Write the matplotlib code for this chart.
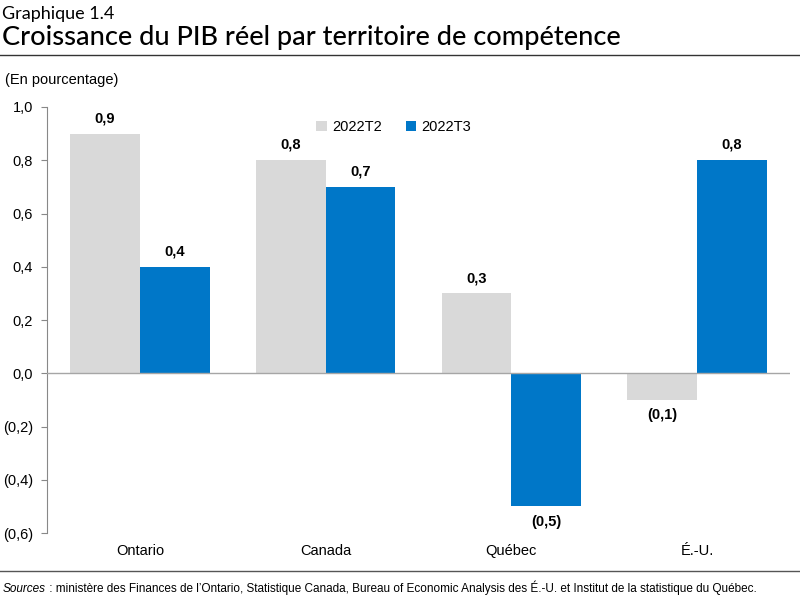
import matplotlib
matplotlib.use("Agg")
import matplotlib.pyplot as plt
import numpy as np
from matplotlib.lines import Line2D

categories = ["Ontario", "Canada", "Québec", "É.-U."]
s_t2 = [0.9, 0.8, 0.3, -0.1]
s_t3 = [0.4, 0.7, -0.5, 0.8]
series_names = ["2022T2", "2022T3"]
yticks = [1.0, 0.8, 0.6, 0.4, 0.2, 0.0, -0.2, -0.4, -0.6]

GREY = "#D9D9D9"
BLUE = "#0077C8"
NARROW = ["Liberation Sans Narrow", "Liberation Sans", "DejaVu Sans"]
TITLEF = ["Lato", "DejaVu Sans"]

def fmt(v):
    s = f"{abs(v):.1f}".replace(".", ",")
    return f"({s})" if v < 0 else s

fig = plt.figure(figsize=(8.0, 6.04), dpi=100)
W, H = 800, 604
ax = fig.add_axes([47 / W, 1 - 533 / H, (790 - 47) / W, (533 - 107) / H])

x = np.arange(len(categories))
bw = 0.375
b1 = ax.bar(x - bw / 2, s_t2, bw, color=GREY, label=series_names[0], zorder=2)
b2 = ax.bar(x + bw / 2, s_t3, bw, color=BLUE, label=series_names[1], zorder=2)

for bars, vals in ((b1, s_t2), (b2, s_t3)):
    for r, v in zip(bars, vals):
        cx = r.get_x() + r.get_width() / 2
        if v >= 0:
            ax.annotate(fmt(v), (cx, v), xytext=(0, 6), textcoords="offset points",
                        ha="center", va="bottom", fontsize=10.5, fontweight="bold", family=NARROW)
        else:
            ax.annotate(fmt(v), (cx, v), xytext=(0, -6), textcoords="offset points",
                        ha="center", va="top", fontsize=10.5, fontweight="bold", family=NARROW)

ax.set_xlim(-0.5, len(categories) - 0.5)
ax.set_ylim(-0.6, 1.0)
ax.set_yticks(yticks)
ax.set_yticklabels([fmt(v) for v in yticks], family=NARROW, fontsize=10.5)
ax.set_xticks(x)
ax.set_xticklabels(categories, family=NARROW, fontsize=10.5)
ax.tick_params(axis="x", length=0, pad=8)
ax.tick_params(axis="y", length=4, direction="out", color="#888888", pad=6)
for sp in ("top", "right", "bottom"):
    ax.spines[sp].set_visible(False)
ax.spines["left"].set_color("#888888")
ax.axhline(0, color="#A6A6A6", lw=1, zorder=3)

leg = ax.legend(loc="upper left", bbox_to_anchor=(0.345, 1.0), ncol=2, frameon=False,
                prop={"family": NARROW, "size": 10.5}, handlelength=0.7, handleheight=0.7,
                columnspacing=1.6, handletextpad=0.4)

fig.text(2 / W, 1 - 14 / H, "Graphique 1.4", family=TITLEF, fontsize=13, va="center", ha="left")
fig.text(2 / W, 1 - 38 / H, "Croissance du PIB réel par territoire de compétence", family=TITLEF,
         fontsize=19.5, fontweight="medium", va="center", ha="left")
fig.add_artist(Line2D([0, 1], [1 - 55 / H, 1 - 55 / H], color="#333333", lw=1))
fig.text(5 / W, 1 - 80 / H, "(En pourcentage)", family=NARROW, fontsize=10.5, va="center", ha="left")
fig.add_artist(Line2D([0, 1], [1 - 571 / H, 1 - 571 / H], color="#555555", lw=1))

t1 = fig.text(3 / W, 1 - 592 / H, "Sources", family=NARROW, style="italic", fontsize=8.5,
              va="baseline", ha="left")
fig.canvas.draw()
bb = t1.get_window_extent()
fig.text(bb.x1 / W, 1 - 592 / H,
         " : ministère des Finances de l’Ontario, Statistique Canada, Bureau of Economic Analysis des É.-U. et Institut de la statistique du Québec.",
         family=NARROW, fontsize=8.5, va="baseline", ha="left")

fig.savefig("out.png", dpi=100)
